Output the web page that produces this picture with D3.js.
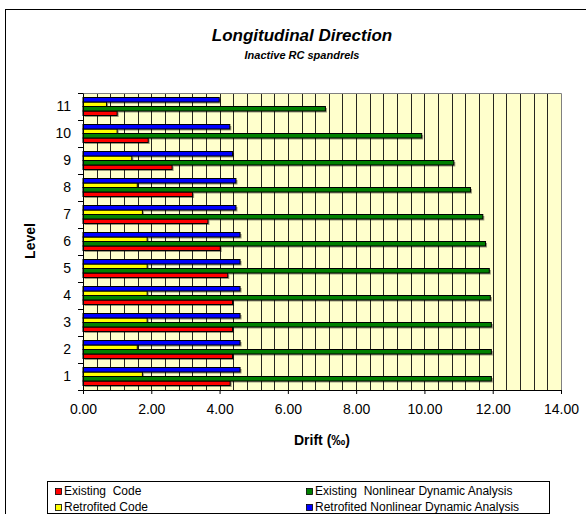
<!DOCTYPE html>
<html><head><meta charset="utf-8">
<script src="https://cdn.jsdelivr.net/npm/d3@7"></script>
<style>body{margin:0;background:#fff} svg{display:block}</style>
</head><body><svg id="chart" width="586" height="514"></svg>
<script>
const levels = ["1","2","3","4","5","6","7","8","9","10","11"];
const existingCode    = [4.31, 4.38, 4.38, 4.38, 4.24, 4.02, 3.66, 3.21, 2.61, 1.91, 1.00];
const existingNDA     = [11.96, 11.96, 11.96, 11.93, 11.90, 11.79, 11.71, 11.35, 10.86, 9.92, 7.10];
const retrofittedCode = [1.74, 1.59, 1.88, 1.88, 1.88, 1.88, 1.74, 1.59, 1.43, 1.00, 0.69];
const retrofittedNDA  = [4.60, 4.60, 4.60, 4.60, 4.60, 4.60, 4.48, 4.48, 4.38, 4.30, 3.99];
const seriesNames = ["Existing  Code", "Existing  Nonlinear Dynamic Analysis", "Retrofited Code", "Retrofited Nonlinear Dynamic Analysis"];
const seriesColors = ["#FF0000", "#008000", "#FFFF00", "#0000FF"];
const xTickValues = [0, 2, 4, 6, 8, 10, 12, 14];
const title = "Longitudinal Direction";
const subtitle = "Inactive RC spandrels";
const xTitle = "Drift (‰)";
const yTitle = "Level";

const seriesData = [existingCode, existingNDA, retrofittedCode, retrofittedNDA];
const FONT = "'Liberation Sans', Arial, sans-serif";
const svg = d3.select("#chart");
const L = 83, R = 561, T = 93, B = 390;

// chart area border
svg.append("rect").attr("x", 5.5).attr("y", 9.5).attr("width", 700).attr("height", 700)
  .attr("fill", "#fff").attr("stroke", "#000");

svg.append("text").attr("x", 302).attr("y", 41).attr("text-anchor", "middle")
  .attr("font-family", FONT).attr("font-size", 17).attr("font-weight", "bold").attr("font-style", "italic")
  .text(title);
svg.append("text").attr("x", 302).attr("y", 59).attr("text-anchor", "middle")
  .attr("font-family", FONT).attr("font-size", 11).attr("font-weight", "bold").attr("font-style", "italic")
  .text(subtitle);

const x = d3.scaleLinear().domain([0, 14]).range([L, R]);
const y = d3.scaleBand().domain(levels.slice().reverse()).range([T, B]).paddingInner(1/3).paddingOuter(1/6);
const yInner = d3.scaleBand().domain([3, 2, 1, 0]).range([0, y.bandwidth()]);

// plot background
svg.append("rect").attr("x", L).attr("y", T).attr("width", R - L).attr("height", B - T).attr("fill", "#FFFFCC");

// gridlines every 0.4
const grid = d3.range(1, 35).map(i => i * 0.4);
svg.append("g").selectAll("line").data(grid).join("line")
  .attr("x1", d => Math.round(x(d)) + 0.5).attr("x2", d => Math.round(x(d)) + 0.5)
  .attr("y1", T).attr("y2", B).attr("stroke", "#000").attr("stroke-opacity", 0.85);

// plot border top/right gray
svg.append("path").attr("d", `M${L},${T + 0.5}H${R + 0.5}V${B}`).attr("fill", "none").attr("stroke", "#808080");

// bars
const rows = [];
levels.forEach((lv, i) => seriesData.forEach((arr, s) => rows.push({ lv, s, v: arr[i] })));
const gb = svg.append("g");
gb.selectAll("rect.sh").data(rows).join("rect").attr("class", "sh")
  .attr("x", x(0) + 1.5).attr("y", d => y(d.lv) + yInner(d.s) + 1.5)
  .attr("width", d => x(d.v) - x(0)).attr("height", yInner.bandwidth())
  .attr("fill", "#000").attr("fill-opacity", 0.4);
gb.selectAll("rect.bar").data(rows).join("rect").attr("class", "bar")
  .attr("x", x(0)).attr("y", d => y(d.lv) + yInner(d.s))
  .attr("width", d => x(d.v) - x(0)).attr("height", yInner.bandwidth())
  .attr("fill", d => seriesColors[d.s]).attr("stroke", "#000").attr("stroke-width", 1);

// axes
const xAxis = svg.append("g").attr("transform", `translate(0,${B})`)
  .call(d3.axisBottom(x).tickValues(xTickValues).tickFormat(d3.format(".2f")).tickSize(4).tickPadding(10));
const yAxis = svg.append("g").attr("transform", `translate(${L},0)`)
  .call(d3.axisLeft(y).tickSize(0).tickPadding(12));
// band boundary ticks on y axis
const bounds = levels.map(lv => y(lv) - y.step() * y.paddingInner() / 2).concat([B]);
svg.append("g").selectAll("line").data(bounds).join("line")
  .attr("x1", L - 5).attr("x2", L).attr("y1", d => Math.round(d) + 0.5).attr("y2", d => Math.round(d) + 0.5)
  .attr("stroke", "#000");
[xAxis, yAxis].forEach(g => {
  g.selectAll("text").attr("font-family", FONT).attr("font-size", 14).attr("fill", "#000");
  g.selectAll("path,line").attr("stroke", "#000");
});

svg.append("text").attr("x", 322).attr("y", 445).attr("text-anchor", "middle")
  .attr("font-family", FONT).attr("font-size", 14).attr("font-weight", "bold").text(xTitle);
svg.append("text").attr("transform", "translate(35,241) rotate(-90)").attr("text-anchor", "middle")
  .attr("font-family", FONT).attr("font-size", 14).attr("font-weight", "bold").text(yTitle);

// legend
svg.append("rect").attr("x", 47.5).attr("y", 481.5).attr("width", 502).attr("height", 32)
  .attr("fill", "#fff").attr("stroke", "#000");
const legPos = [[55, 491], [306, 491], [55, 507], [306, 507]];
const lg = svg.append("g").selectAll("g").data(seriesNames).join("g")
  .attr("transform", (d, i) => `translate(${legPos[i][0]},${legPos[i][1]})`);
lg.append("rect").attr("x", 0.5).attr("y", -2.5).attr("width", 6).attr("height", 6)
  .attr("fill", (d, i) => seriesColors[i]).attr("stroke", "#000").attr("stroke-width", 0.8);
lg.append("text").attr("x", 9).attr("y", 4).attr("font-family", FONT).attr("font-size", 12)
  .style("white-space", "pre").text(d => d);
</script></body></html>
